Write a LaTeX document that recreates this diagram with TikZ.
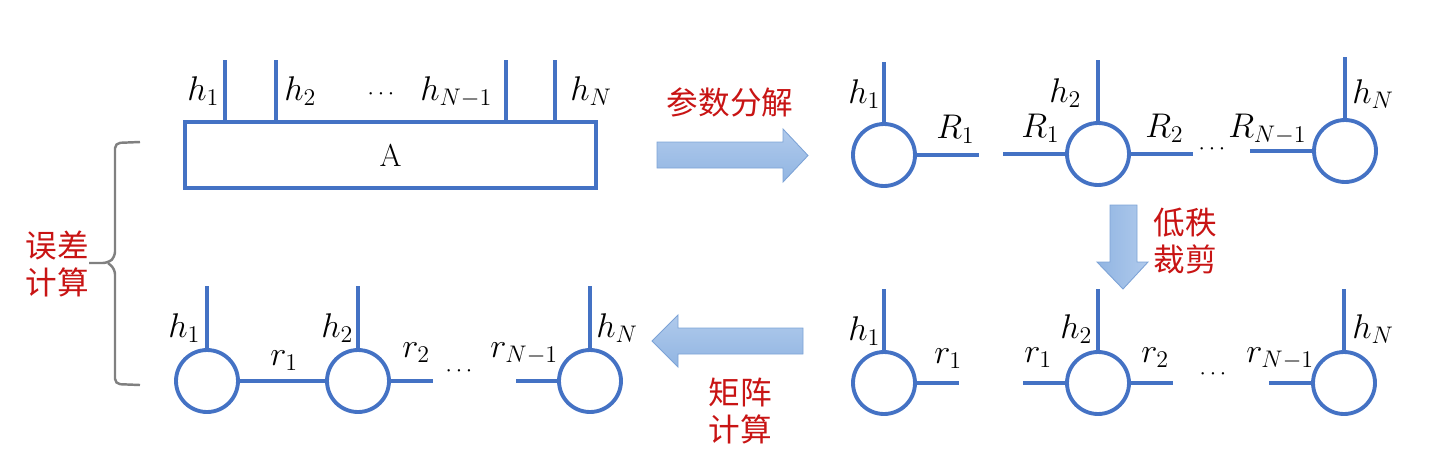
\RequirePackage{fix-cm}
\documentclass[tikz,border=0pt]{standalone}
\usepackage{fontspec}
\newfontfamily\cjk{Noto Sans CJK SC}
\definecolor{wireblue}{RGB}{68,114,196}
\definecolor{cnred}{RGB}{200,20,20}
\definecolor{bracegray}{RGB}{128,128,128}
\definecolor{arrowedge}{RGB}{125,163,214}
\definecolor{arrowA}{RGB}{145,181,226}
\definecolor{arrowB}{RGB}{176,202,236}
\begin{document}
\begin{tikzpicture}[x=0.02cm,y=-0.02cm,
  wire/.style={draw=wireblue,line width=2.2pt},
  core/.style={circle,draw=wireblue,line width=2.2pt,minimum size=1.24cm,inner sep=0pt},
  tensorbox/.style={rectangle,draw=wireblue,line width=2.2pt,minimum width=8.22cm,minimum height=1.32cm,inner sep=0pt,font=\fontsize{18}{20}\selectfont},
  lab/.style={anchor=base west,inner sep=0pt,font=\fontsize{19.5}{22}\selectfont},
  dotlab/.style={anchor=base,inner sep=0pt,font=\fontsize{13}{15}\selectfont},
  cn/.style={text=cnred,font=\cjk\fontsize{18}{21.5}\selectfont,align=center,inner sep=0pt},
  blockarrow/.style={draw=arrowedge,line width=0.5pt},
  bracestyle/.style={draw=bracegray,line width=1.4pt,rounded corners=3pt}]
\path[use as bounding box] (0,0) rectangle (1447,468);

% ---------- top-left: big tensor A ----------
\node[tensorbox] (A) at (390.5,155) {A};
\coordinate (ta1) at (225,60);
\coordinate (ta2) at (276,60);
\coordinate (ta3) at (506,60);
\coordinate (ta4) at (555,60);
\foreach \t in {ta1,ta2,ta3,ta4} \draw[wire] (\t) -- (\t |- A.north);
\node[lab] (lA1) at (187,100) {$h_1$};
\node[lab] (lA2) at (284,100) {$h_2$};
\node[dotlab] (dA) at (381,99) {$\cdots$};
\node[lab] (lA3) at (420,100) {$h_{N-1}$};
\node[lab] (lA4) at (570,100) {$h_N$};

% ---------- arrow: parameter decomposition ----------
\shade[blockarrow,top color=arrowB,bottom color=arrowA]
  (657,142) -- (783,142) -- (783,129) -- (808,155.5) -- (783,182) -- (783,168) -- (657,168) -- cycle;
\node[cn] (t1) at (730,102) {参数分解};

% ---------- top-right: decomposed chain ----------
\node[core] (c1) at (884,155) {};
\node[core] (c2) at (1098,154) {};
\node[core] (c3) at (1345,151) {};
\coordinate (tc1) at (884,62);
\coordinate (tc2) at (1098,60);
\coordinate (tc3) at (1345,57);
\coordinate (rc1) at (979,155);
\coordinate (lc2) at (1003,154);
\coordinate (rc2) at (1193,154);
\coordinate (lc3) at (1250,151);
\draw[wire] (tc1) -- (c1.north);
\draw[wire] (tc2) -- (c2.north);
\draw[wire] (tc3) -- (c3.north);
\draw[wire] (c1.east) -- (rc1);
\draw[wire] (lc2) -- (c2.west);
\draw[wire] (c2.east) -- (rc2);
\draw[wire] (lc3) -- (c3.west);
\node[lab] (lc1h) at (848,103) {$h_1$};
\node[lab] (lc1r) at (936,138) {$R_1$};
\node[lab] (lc2l) at (1021,137) {$R_1$};
\node[lab] (lc2h) at (1049,102) {$h_2$};
\node[lab] (lc2r) at (1145,137) {$R_2$};
\node[dotlab] (dc) at (1212,154) {$\cdots$};
\node[lab] (lc3l) at (1228,137) {$R_{N-1}$};
\node[lab] (lc3h) at (1352,103) {$h_N$};

% ---------- arrow: low-rank truncation ----------
\shade[blockarrow,left color=arrowA,right color=arrowB]
  (1110,205) -- (1137,205) -- (1137,262) -- (1148,262) -- (1123,289) -- (1097,262) -- (1110,262) -- cycle;
\node[cn] (t2) at (1185,241) {低秩\\裁剪};

% ---------- bottom-right: truncated chain ----------
\node[core] (d1) at (884,383) {};
\node[core] (d2) at (1098,383) {};
\node[core] (d3) at (1344,383) {};
\coordinate (td1) at (884,289);
\coordinate (td2) at (1098,289);
\coordinate (td3) at (1344,289);
\coordinate (rd1) at (959,383);
\coordinate (ld2) at (1023,383);
\coordinate (rd2) at (1173,383);
\coordinate (ld3) at (1269,383);
\draw[wire] (td1) -- (d1.north);
\draw[wire] (td2) -- (d2.north);
\draw[wire] (td3) -- (d3.north);
\draw[wire] (d1.east) -- (rd1);
\draw[wire] (ld2) -- (d2.west);
\draw[wire] (d2.east) -- (rd2);
\draw[wire] (ld3) -- (d3.west);
\node[lab] (ld1h) at (848,340) {$h_1$};
\node[lab] (ld1r) at (934,363) {$r_1$};
\node[lab] (ld2l) at (1024,362) {$r_1$};
\node[lab] (ld2h) at (1060,338) {$h_2$};
\node[lab] (ld2r) at (1141,362) {$r_2$};
\node[dotlab] (dd) at (1213,379) {$\cdots$};
\node[lab] (ld3l) at (1246,362) {$r_{N-1}$};
\node[lab] (ld3h) at (1352,338) {$h_N$};

% ---------- arrow: matrix computation ----------
\shade[blockarrow,top color=arrowB,bottom color=arrowA]
  (803,328) -- (678,328) -- (678,315) -- (652,341) -- (678,367) -- (678,354) -- (803,354) -- cycle;
\node[cn] (t3) at (740,411) {矩阵\\计算};

% ---------- bottom-left: contracted chain ----------
\node[core] (e1) at (207,381) {};
\node[core] (e2) at (358,381) {};
\node[core] (e3) at (590,381) {};
\coordinate (te1) at (207,286);
\coordinate (te2) at (358,286);
\coordinate (te3) at (590,286);
\coordinate (me12) at (283,381);
\coordinate (re2) at (433,381);
\coordinate (le3) at (516,381);
\draw[wire] (te1) -- (e1.north);
\draw[wire] (te2) -- (e2.north);
\draw[wire] (te3) -- (e3.north);
\draw[wire] (e1.east) -- (me12);
\draw[wire] (me12) -- (e2.west);
\draw[wire] (e2.east) -- (re2);
\draw[wire] (le3) -- (e3.west);
\node[lab] (le1h) at (168,337) {$h_1$};
\node[lab] (le1r) at (270,365) {$r_1$};
\node[lab] (le2h) at (321,337) {$h_2$};
\node[lab] (le2r) at (402,357) {$r_2$};
\node[dotlab] (de) at (459,376) {$\cdots$};
\node[lab] (le3l) at (490,357) {$r_{N-1}$};
\node[lab] (le3h) at (596,337) {$h_N$};

% ---------- brace: error computation ----------
\coordinate (bt) at (140,142);
\coordinate (bb) at (140,385);
\coordinate (btip) at (89,263);
\draw[bracestyle] (bt) -- (115,143) -- (115,257) -- (108,263) -- (btip);
\draw[bracestyle] (108,263) -- (115,269) -- (115,384) -- (bb);
\node[cn] (t4) at (57,264) {误差\\计算};
\end{tikzpicture}
\end{document}
